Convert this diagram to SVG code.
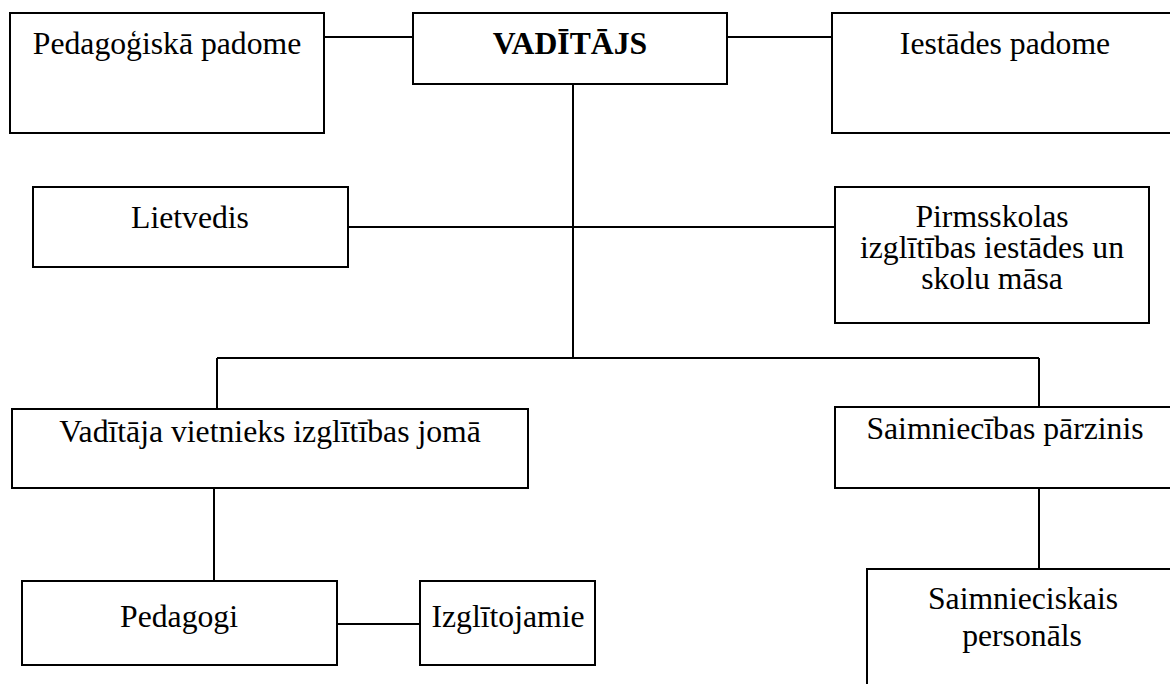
<svg xmlns="http://www.w3.org/2000/svg" width="1170" height="684" viewBox="0 0 1170 684">
<style>
.box{fill:#fff;stroke:#000;stroke-width:2}
.t{font-family:"Liberation Serif","Times New Roman",serif;font-size:31.7px;fill:#000;text-anchor:middle}
.b{font-weight:bold}
.c{stroke:#000;stroke-width:2;fill:none}
</style>
<rect width="1170" height="684" fill="#fff"/>
<g id="connectors">
<line class="c" x1="324" y1="37" x2="413" y2="37"/>
<line class="c" x1="727" y1="37" x2="832" y2="37"/>
<line class="c" x1="573" y1="84" x2="573" y2="358"/>
<line class="c" x1="348" y1="227" x2="835" y2="227"/>
<line class="c" x1="217" y1="358" x2="1039" y2="358"/>
<line class="c" x1="217" y1="358" x2="217" y2="409"/>
<line class="c" x1="1039" y1="358" x2="1039" y2="407"/>
<line class="c" x1="214" y1="488" x2="214" y2="581"/>
<line class="c" x1="1039" y1="488" x2="1039" y2="574"/>
<line class="c" x1="337" y1="624" x2="420" y2="624"/>
</g>
<g id="pedagogiska-padome">
<rect class="box" x="10" y="13" width="314" height="120"/>
<text class="t" x="167" y="54">Pedagoģiskā padome</text>
</g>
<g id="vaditajs">
<rect class="box" x="413" y="13" width="314" height="71"/>
<text class="t b" x="570" y="54">VADĪTĀJS</text>
</g>
<g id="iestades-padome">
<rect class="box" x="832" y="13" width="350" height="120"/>
<text class="t" x="1005" y="54">Iestādes padome</text>
</g>
<g id="lietvedis">
<rect class="box" x="33" y="187" width="315" height="80"/>
<text class="t" x="190" y="228">Lietvedis</text>
</g>
<g id="pirmsskolas-masa">
<rect class="box" x="835" y="187" width="314" height="136"/>
<text class="t" x="992" y="227">Pirmsskolas</text>
<text class="t" x="992" y="258">izglītības iestādes un</text>
<text class="t" x="992" y="289">skolu māsa</text>
</g>
<g id="vaditaja-vietnieks">
<rect class="box" x="12" y="409" width="516" height="79"/>
<text class="t" x="270" y="442">Vadītāja vietnieks izglītības jomā</text>
</g>
<g id="saimniecibas-parzinis">
<rect class="box" x="835" y="407" width="345" height="81"/>
<text class="t" x="1005" y="439">Saimniecības pārzinis</text>
</g>
<g id="pedagogi">
<rect class="box" x="22" y="581" width="315" height="84"/>
<text class="t" x="179" y="627">Pedagogi</text>
</g>
<g id="izglitojamie">
<rect class="box" x="420" y="581" width="175" height="84"/>
<text class="t" x="508" y="627">Izglītojamie</text>
</g>
<g id="saimnieciskais-personals">
<rect class="box" x="867" y="569" width="320" height="130"/>
<text class="t" x="1023" y="609">Saimnieciskais</text>
<text class="t" x="1022" y="646">personāls</text>
</g>
</svg>
